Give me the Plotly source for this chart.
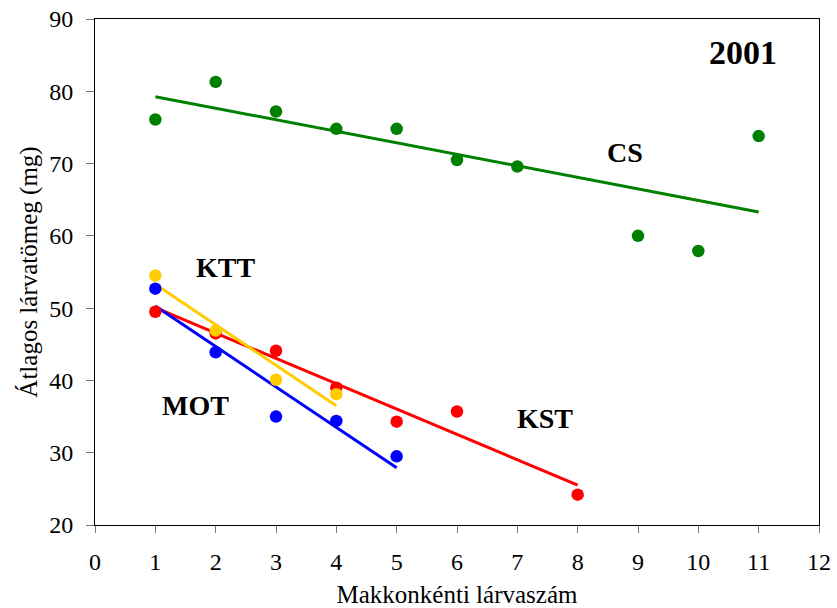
import numpy as np
import plotly.graph_objects as go

# Larval counts per acorn (x) and mean larval mass in mg (y) per site
cs_x = [1, 2, 3, 4, 5, 6, 7, 9, 10, 11]
cs_y = [76.1, 81.3, 77.2, 74.8, 74.8, 70.5, 69.6, 60.0, 57.9, 73.8]

ktt_x = [1, 2, 3, 4]
ktt_y = [54.5, 46.9, 40.1, 38.1]

mot_x = [1, 2, 3, 4, 5]
mot_y = [52.7, 43.9, 35.0, 34.4, 29.5]

kst_x = [1, 2, 3, 4, 5, 6, 8]
kst_y = [49.5, 46.5, 44.1, 39.0, 34.3, 35.7, 24.2]

x_ticks = list(range(0, 13))
y_ticks = list(range(20, 91, 10))

FONT = "Liberation Serif, Times New Roman, serif"

series = [
    ("CS", cs_x, cs_y, "#008000"),
    ("KST", kst_x, kst_y, "#FF0000"),
    ("KTT", ktt_x, ktt_y, "#FFCC00"),
    ("MOT", mot_x, mot_y, "#0000FF"),
]

fig = go.Figure()

# Linear trend lines fitted over each series' own x range
for name, xs, ys, color in series:
    slope, intercept = np.polyfit(xs, ys, 1)
    x_end = [min(xs), max(xs)]
    fig.add_trace(go.Scatter(
        x=x_end, y=[slope * v + intercept for v in x_end],
        mode="lines", line=dict(color=color, width=3),
        showlegend=False, hoverinfo="skip"))

for name, xs, ys, color in series:
    fig.add_trace(go.Scatter(
        x=xs, y=ys, mode="markers", name=name,
        marker=dict(color=color, size=12.5),
        showlegend=False))

labels = [
    ("2001", 10.74, 85.3, 34),
    ("CS", 8.78, 71.6, 28),
    ("KTT", 2.17, 55.6, 28),
    ("MOT", 1.66, 36.5, 28),
    ("KST", 7.46, 34.8, 28),
]
for text, lx, ly, size in labels:
    fig.add_annotation(
        x=lx, y=ly, xref="x", yref="y", text=f"<b>{text}</b>",
        showarrow=False, xanchor="center", yanchor="middle",
        font=dict(family=FONT, size=size, color="black"))

axis_common = dict(
    showline=True, linecolor="black", linewidth=1, mirror=True,
    showgrid=False, zeroline=False, ticks="outside", tickcolor="#777",
    automargin=False,
    tickfont=dict(family=FONT, size=24, color="black"),
)

fig.update_xaxes(
    range=[0, 12], tickvals=x_ticks, ticklen=7, ticklabelstandoff=8,
    title=dict(text="Makkonkénti lárvaszám",
               font=dict(family=FONT, size=25, color="black"), standoff=12),
    **axis_common)
fig.update_yaxes(
    range=[20, 90], tickvals=y_ticks, ticklen=8, ticklabelstandoff=8,
    title=dict(text="Átlagos lárvatömeg (mg)",
               font=dict(family=FONT, size=25, color="black"), standoff=4),
    **axis_common)

fig.update_layout(
    width=837, height=608,
    margin=dict(l=95, r=18, t=19, b=83),
    paper_bgcolor="white", plot_bgcolor="white",
    font=dict(family=FONT, color="black"),
)

fig.write_html("out.html")
